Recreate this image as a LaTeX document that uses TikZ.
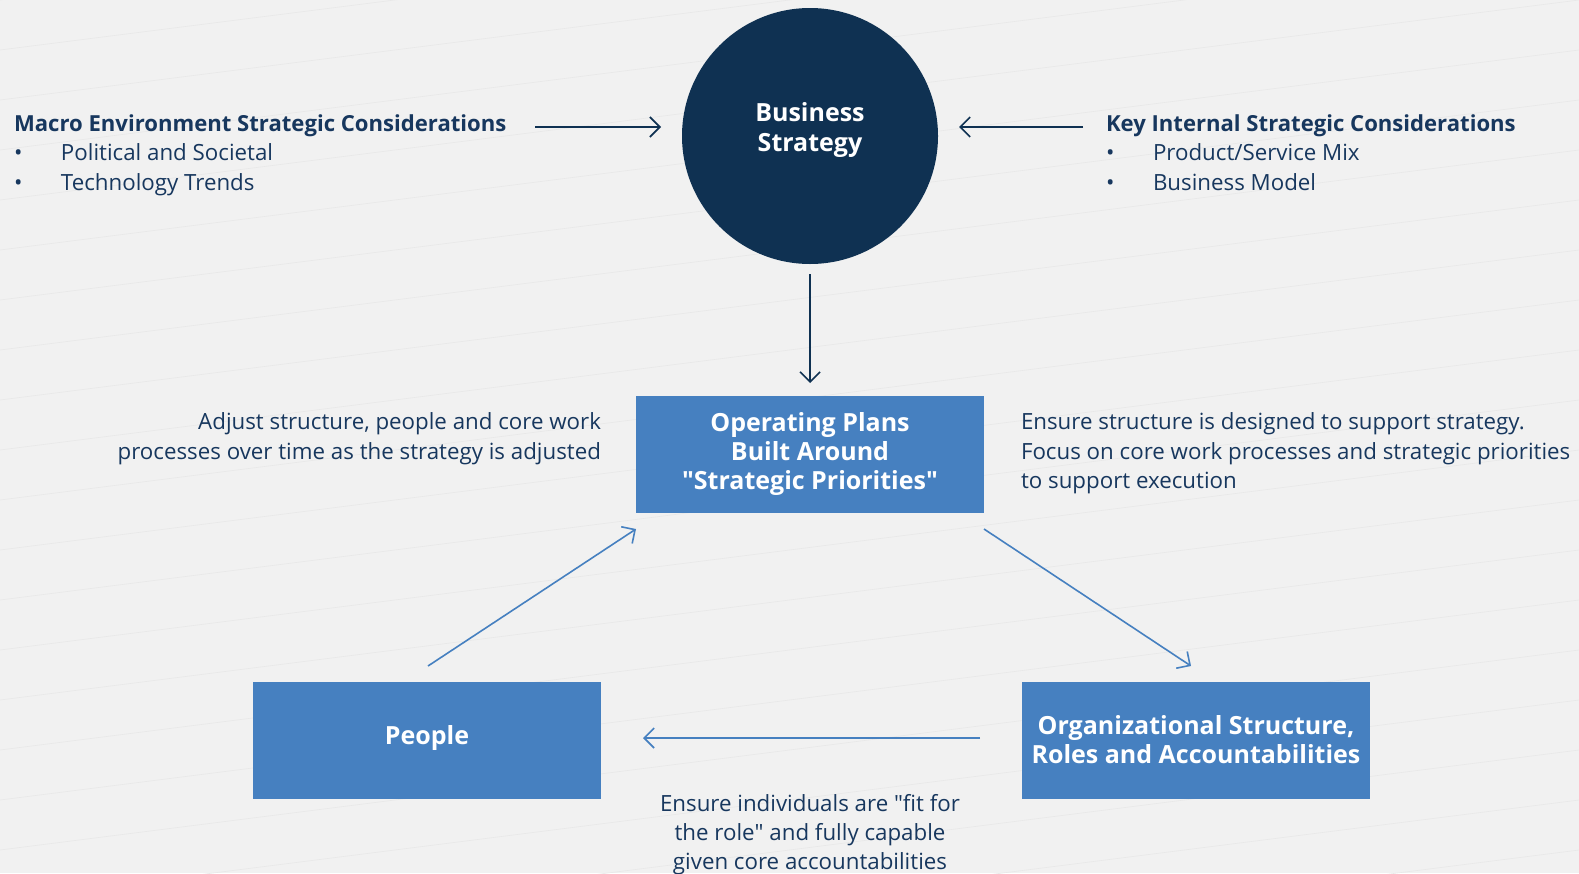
\documentclass[tikz,border=0pt]{standalone}
\usepackage{fontspec}
\setmainfont{Open Sans}
\usetikzlibrary{arrows.meta}
\definecolor{navy}{HTML}{0F3152}
\definecolor{txt}{HTML}{17375E}
\definecolor{boxblue}{HTML}{4680C0}
\definecolor{bg}{HTML}{F1F1F1}
\definecolor{bgline}{HTML}{E8E8E8}
\newcommand{\dq}{\textquotedbl}
\begin{document}
\begin{tikzpicture}[x=0.5pt,y=-0.5pt,
  every node/.style={inner sep=0pt, outer sep=0pt},
  plain/.style={font=\fontsize{11.15}{14.7}\selectfont, text=txt},
  head/.style={font=\fontsize{11.05}{14.6}\selectfont\bfseries, text=txt},
  boxtxt/.style={font=\fontsize{12.5}{14.6}\selectfont\bfseries, text=white, align=center},
  bluebox/.style={fill=boxblue, minimum width=174pt, minimum height=58.5pt},
  navyarrow/.style={draw=navy, line width=0.8pt, -{Straight Barb[length=5pt,width=10pt,line width=0.8pt]}},
  bluearrow/.style={draw=boxblue, line width=0.8pt, -{Straight Barb[length=5pt,width=10pt,line width=0.8pt]}}
]
\fill[bg] (0,0) rectangle (1579,873);
\useasboundingbox (0,0) rectangle (1579,873);
% faint background lines
\foreach \k in {-300,-250,...,1100} {
  \draw[bgline, line width=0.3pt] (0,\k+200) -- (1579,\k);
}

% Business strategy circle
\node[circle, fill=navy, minimum size=128pt] (bs) at (810,136) {};
\node[boxtxt] (bst) at (810,130) {Business\\Strategy};

% Macro environment
\node[head, anchor=base west] (mh) at (14,131) {Macro Environment Strategic Considerations};
\node[plain, anchor=base west] (mb1) at (14,160) {•};
\node[plain, anchor=base west] (m1) at (61,160) {Political and Societal};
\node[plain, anchor=base west] (mb2) at (14,190) {•};
\node[plain, anchor=base west] (m2) at (61,190) {Technology Trends};

% Key internal
\node[head, anchor=base west] (kh) at (1106,131) {Key Internal Strategic Considerations};
\node[plain, anchor=base west] (kb1) at (1106,160) {•};
\node[plain, anchor=base west] (k1) at (1153,160) {Product/Service Mix};
\node[plain, anchor=base west] (kb2) at (1106,190) {•};
\node[plain, anchor=base west] (k2) at (1153,190) {Business Model};

% boxes
\node[bluebox] (op) at (810,454.5) {};
\node[boxtxt] (opt) at (810,454) {Operating Plans\\Built Around\\\dq Strategic Priorities\dq};
\node[bluebox] (pp) at (427,740) {};
\node[boxtxt] (ppt) at (427,738) {People};
\node[bluebox] (org) at (1196,740) {};
\node[boxtxt] (orgt) at (1196,740) {Organizational Structure,\\Roles and Accountabilities};

% side texts
\node[plain, align=right, anchor=north east] (lt) at (601,413) {Adjust structure, people and core work\\processes over time as the strategy is adjusted};
\node[plain, align=left, anchor=north west] (rt) at (1021,413) {Ensure structure is designed to support strategy.\\Focus on core work processes and strategic priorities\\to support execution};
\node[plain, align=center, anchor=north] (bt) at (810,794) {Ensure individuals are \dq fit for\\the role\dq{} and fully capable\\given core accountabilities};

% arrow end points
\coordinate (a1s) at (535,127);
\coordinate (a1e) at (661,127);
\coordinate (a2s) at (1083,127);
\coordinate (a2e) at (959,127);
\coordinate (a3s) at (810,274);
\coordinate (a3e) at (810,383);
\coordinate (p1) at (428,666);
\coordinate (p2) at (636,529);
\coordinate (o1) at (984,529);
\coordinate (o2) at (1191,666);
\coordinate (r1) at (980,738);
\coordinate (r2) at (643,738);

\draw[navyarrow] (a1s) -- (a1e);
\draw[navyarrow] (a2s) -- (a2e);
\draw[navyarrow] (a3s) -- (a3e);
\draw[bluearrow] (p1) -- (p2);
\draw[bluearrow] (o1) -- (o2);
\draw[bluearrow] (r1) -- (r2);
\end{tikzpicture}
\end{document}
